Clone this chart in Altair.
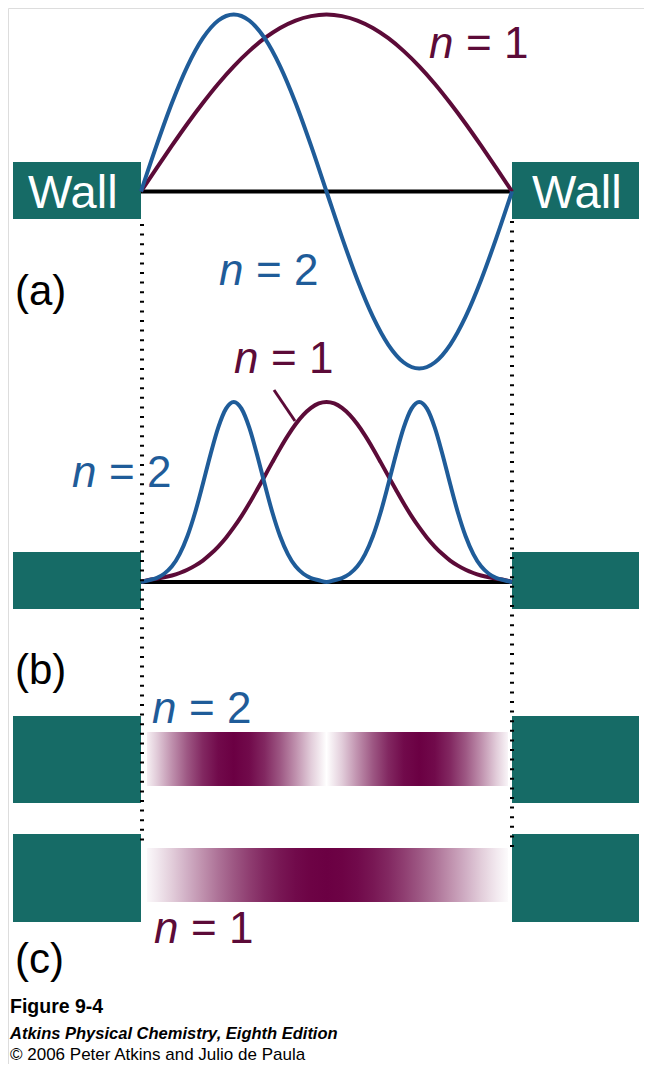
import altair as alt
import numpy as np
import pandas as pd

# ---------------- data ----------------
# sample positions across the box (0 = left wall, 1 = right wall)
GRID_A = [k / 24 for k in range(25)]
GRID_B = [k / 48 for k in range(49)]
# wavefunctions (panel a)
PSI_1 = [0.000, 0.131, 0.259, 0.383, 0.500, 0.609, 0.707, 0.793, 0.866, 0.924, 0.966, 0.991, 1.000,
         0.991, 0.966, 0.924, 0.866, 0.793, 0.707, 0.609, 0.500, 0.383, 0.259, 0.131, 0.000]
PSI_2 = [0.000, 0.259, 0.500, 0.707, 0.866, 0.966, 1.000, 0.966, 0.866, 0.707, 0.500, 0.259, 0.000,
         -0.259, -0.500, -0.707, -0.866, -0.966, -1.000, -0.966, -0.866, -0.707, -0.500, -0.259, 0.000]
# probability-density curves as drawn in panel b
DENS_1 = [0.000, 0.012, 0.018, 0.026, 0.036, 0.050, 0.068, 0.091, 0.119, 0.155, 0.197, 0.246, 0.303,
          0.366, 0.436, 0.511, 0.588, 0.666, 0.742, 0.813, 0.876, 0.928, 0.967, 0.992, 1.000,
          0.992, 0.967, 0.928, 0.876, 0.813, 0.742, 0.666, 0.588, 0.511, 0.436, 0.366, 0.303,
          0.246, 0.197, 0.155, 0.119, 0.091, 0.068, 0.050, 0.036, 0.026, 0.018, 0.012, 0.000]
DENS_2 = [0.000, 0.010, 0.022, 0.046, 0.087, 0.155, 0.254, 0.386, 0.544, 0.710, 0.859, 0.963, 1.000,
          0.963, 0.859, 0.710, 0.544, 0.386, 0.254, 0.155, 0.087, 0.046, 0.022, 0.010, 0.000,
          0.010, 0.022, 0.046, 0.087, 0.155, 0.254, 0.386, 0.544, 0.710, 0.859, 0.963, 1.000,
          0.963, 0.859, 0.710, 0.544, 0.386, 0.254, 0.155, 0.087, 0.046, 0.022, 0.010, 0.000]

WALL_TEXT = ["Wall"]
PANEL_TEXT = ["(a)", "(b)", "(c)"]
STATE_N = ["n"]
STATE_EQ = ["= 1", "= 2"]
FOOTER = ["Figure 9-4",
          "Atkins Physical Chemistry, Eighth Edition",
          "\u00a9 2006 Peter Atkins and Julio de Paula"]

# ---------------- styles ----------------
TEAL = "#166b66"
MAROON = "#5c0b38"
BLUE = "#1f5c99"
STRIP_DARK = "#6b0043"
FONT = "Liberation Sans"
OFF = 8  # page margin

dfa = pd.DataFrame({"t": GRID_A, "psi1": PSI_1, "psi2": PSI_2})
dfb = pd.DataFrame({"t": GRID_B, "d1": DENS_1, "d2": DENS_2})
ONE = pd.DataFrame({"k": [0]})

xscale = alt.Scale(domain=[0, 1], range=[141 - OFF, 512 - OFF], nice=False)
ya = alt.Scale(domain=[0, 1], range=[191.5 - OFF, 14.5 - OFF], nice=False)
yb = alt.Scale(domain=[0, 1], range=[582 - OFF, 402 - OFF], nice=False)


def px(v):
    return alt.value(v - OFF)


def rect(x0, x1, y0, y1, color):
    return alt.Chart(ONE).mark_rect(color=color).encode(x=px(x0), x2=px(x1), y=px(y0), y2=px(y1))


def rule(x0, x1, y0, y1, color, width, dash=None):
    kw = dict(color=color, strokeWidth=width)
    if dash:
        kw["strokeDash"] = dash
    return alt.Chart(ONE).mark_rule(**kw).encode(x=px(x0), x2=px(x1), y=px(y0), y2=px(y1))


def text(label, x, y, size, color, style="normal", weight="normal"):
    return alt.Chart(pd.DataFrame({"label": [label]})).mark_text(
        align="left", baseline="alphabetic", font=FONT, fontSize=size,
        fontStyle=style, fontWeight=weight, color=color
    ).encode(text="label:N", x=px(x), y=px(y))


def state(eq, x, y, color):
    return [text(STATE_N[0], x - 1, y, 44, color, style="italic"),
            text(eq, x + 36, y, 44, color)]


def line(data, col, yscale, color):
    return alt.Chart(data).mark_line(color=color, strokeWidth=4, interpolate="monotone").encode(
        x=alt.X("t:Q", scale=xscale, axis=None),
        y=alt.Y(f"{col}:Q", scale=yscale, axis=None),
    )


def mix(hex_color, f):
    r, g, b = (int(hex_color[i:i + 2], 16) for i in (1, 3, 5))
    f = max(0.0, min(1.0, f))
    c = [round(255 - (255 - v) * f) for v in (r, g, b)]
    return "#%02x%02x%02x" % tuple(c)


def strip(psi, x0, x1, y0, y1):
    # shading follows the magnitude of the wavefunction across the box
    pos = [141 + 371 * t for t in GRID_A]
    amp = [abs(v) for v in psi]
    offs = [0.0] + [(p - x0) / (x1 - x0) for p in pos if x0 < p < x1] + [1.0]
    stops = []
    for o in offs:
        p = x0 + o * (x1 - x0)
        a = float(np.interp(p, pos, amp))
        stops.append(alt.GradientStop(offset=o, color=mix(STRIP_DARK, a ** 1.2)))
    grad = alt.LinearGradient(gradient="linear", stops=stops, x1=0, x2=1, y1=0, y2=0)
    return alt.Chart(ONE).mark_rect(color=grad).encode(x=px(x0), x2=px(x1), y=px(y0), y2=px(y1))


layers = []
# walls
for (y0, y1) in [(162, 219), (552, 609), (716, 803), (834, 922)]:
    layers.append(rect(13, 141, y0, y1, TEAL))
    layers.append(rect(512, 639, y0, y1, TEAL))
# baselines
layers.append(rule(141, 512, 191.5, 191.5, "black", 4))
layers.append(rule(141, 512, 582, 582, "black", 4))
# density strips (c)
layers.append(strip(PSI_2, 147, 508, 732, 786))
layers.append(strip(PSI_1, 147, 508, 848, 902))
# curves
layers.append(line(dfa, "psi1", ya, MAROON))
layers.append(line(dfa, "psi2", ya, BLUE))
layers.append(line(dfb, "d1", yb, MAROON))
layers.append(line(dfb, "d2", yb, BLUE))
# dotted guides
layers.append(rule(142, 142, 224, 846, "black", 4, [2, 7.6]))
layers.append(rule(512, 512, 221, 848, "black", 4, [2, 7.6]))
# pointer for n = 1 in (b)
layers.append(rule(274, 295, 390, 421, MAROON, 3))
# wall labels
layers.append(text(WALL_TEXT[0], 28, 208, 47, "white"))
layers.append(text(WALL_TEXT[0], 532, 208, 47, "white"))
# state labels
layers += state(STATE_EQ[0], 430, 58, MAROON)
layers += state(STATE_EQ[1], 220, 285, BLUE)
layers += state(STATE_EQ[0], 235, 373, MAROON)
layers += state(STATE_EQ[1], 73, 487, BLUE)
layers += state(STATE_EQ[1], 153, 723, BLUE)
layers += state(STATE_EQ[0], 155, 943, MAROON)
# panel labels
layers.append(text(PANEL_TEXT[0], 15, 305, 42, "black"))
layers.append(text(PANEL_TEXT[1], 15, 684, 42, "black"))
layers.append(text(PANEL_TEXT[2], 15, 973, 42, "black"))
# footer
layers.append(text(FOOTER[0], 10, 1013, 19.5, "black", weight="bold"))
layers.append(text(FOOTER[1], 10, 1039, 16.5, "black", style="italic", weight="bold"))
layers.append(text(FOOTER[2], 10, 1060, 17, "black"))

chart = alt.layer(*layers).resolve_scale(y="independent").properties(
    width=636, height=1056, autosize=alt.AutoSizeParams(type="none"), padding=0
).configure_view(strokeWidth=0, strokeOpacity=0).configure(background="white")

chart.save("out.html", embed_options={"renderer": "svg", "actions": False})
